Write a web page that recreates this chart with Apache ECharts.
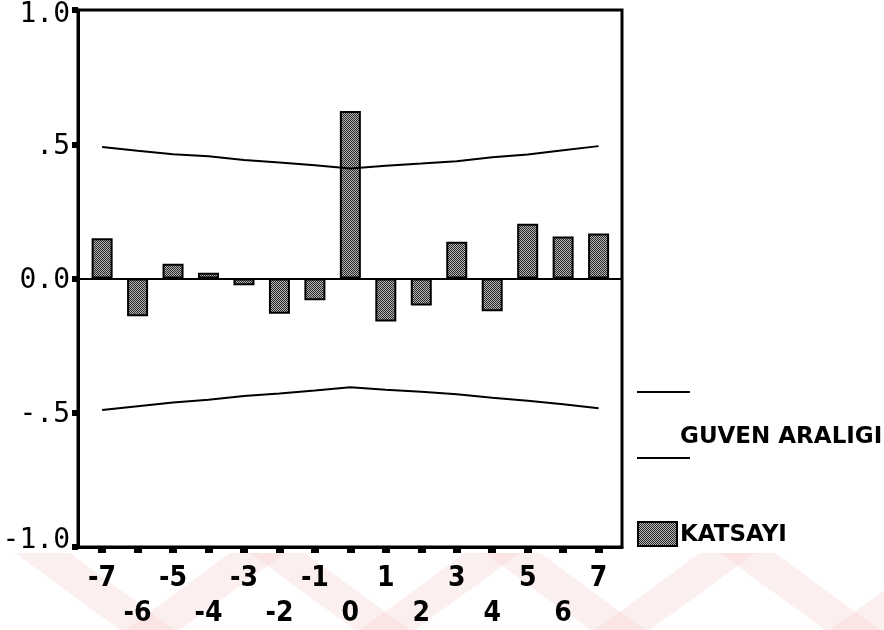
<!DOCTYPE html>
<html>
<head>
<meta charset="utf-8">
<script src="https://cdn.jsdelivr.net/npm/echarts@6/dist/echarts.min.js"></script>
<style>
  html, body { margin: 0; padding: 0; background: #fff; }
  #chart { width: 884px; height: 630px; }
</style>
</head>
<body>
<div id="chart"></div>
<script>
// Cross-correlation coefficients by lag, with the confidence band
const lags = [-7, -6, -5, -4, -3, -2, -1, 0, 1, 2, 3, 4, 5, 6, 7];
const katsayi = [0.150, -0.141, 0.055, 0.021, -0.025, -0.131, -0.081, 0.624,
                 -0.160, -0.101, 0.137, -0.122, 0.204, 0.156, 0.168];
const guvenUst = [0.490, 0.476, 0.463, 0.455, 0.441, 0.432, 0.422, 0.410,
                  0.420, 0.428, 0.437, 0.452, 0.462, 0.478, 0.493];
const guvenAlt = [-0.490, -0.476, -0.462, -0.452, -0.438, -0.428, -0.417, -0.405,
                  -0.414, -0.422, -0.431, -0.444, -0.455, -0.468, -0.483];
const yTickValues = [-1, -0.5, 0, 0.5, 1];
const yTickLabels = ['-1.0', '-.5', '0.0', '.5', '1.0'];

// Stippled grey fill used for the bars and the legend swatch
function stipple() {
  const c = document.createElement('canvas');
  c.width = 4; c.height = 4;
  const g = c.getContext('2d');
  g.fillStyle = '#b4b4b4';
  g.fillRect(0, 0, 4, 4);
  g.fillStyle = '#2a2a2a';
  for (let y = 0; y < 4; y++) {
    for (let x = 0; x < 4; x++) {
      if ((x + y) % 2 === 0) g.fillRect(x, y, 1, 1);
    }
  }
  return { image: c, repeat: 'repeat' };
}
const barFill = stipple();

// Faint diagonal band decoration along the bottom edge
const bandColor = 'rgba(246, 205, 205, 0.32)';
const bands = [];
const vBottoms = [150, 385, 620, 855];
vBottoms.forEach(function (bx) {
  bands.push({ type: 'polygon', silent: true, z: -10,
    shape: { points: [[bx - 135, 553], [bx - 80, 553], [bx + 25, 630], [bx - 30, 630]] },
    style: { fill: bandColor } });
  bands.push({ type: 'polygon', silent: true, z: -10,
    shape: { points: [[bx + 80, 553], [bx + 135, 553], [bx + 30, 630], [bx - 25, 630]] },
    style: { fill: bandColor } });
});

const chart = echarts.init(document.getElementById('chart'), null, { renderer: 'canvas' });

const legendFont = 'bold 23px "DejaVu Sans"';
const tickFont = '"Liberation Sans Narrow", "DejaVu Sans Condensed", sans-serif';
const yFont = { fontFamily: '"DejaVu Sans Mono", monospace', fontSize: 28, color: '#000', lineHeight: 28 };

chart.setOption({
  backgroundColor: '#fff',
  animation: false,
  grid: {
    left: 78, right: 262, top: 10, bottom: 83,
    show: true, borderColor: '#000', borderWidth: 3,
    outerBoundsMode: 'none'
  },
  xAxis: {
    type: 'value',
    min: -7.68, max: 7.66,
    splitLine: { show: false },
    axisLine: { show: true, onZero: false, lineStyle: { color: '#000', width: 3 } },
    axisTick: {
      show: true, customValues: lags, length: 6, inside: false,
      lineStyle: { color: '#000', width: 8 }
    },
    axisLabel: {
      customValues: lags,
      margin: 18,
      formatter: function (v) {
        return (Math.abs(v) % 2 === 1 ? '{o|' : '{e|') + v + '}';
      },
      rich: {
        o: { fontFamily: tickFont, fontWeight: 'bold', fontSize: 28, color: '#000', lineHeight: 28 },
        e: { fontFamily: tickFont, fontWeight: 'bold', fontSize: 28, color: '#000', lineHeight: 98 }
      }
    }
  },
  yAxis: {
    type: 'value',
    min: -1, max: 1, interval: 0.5,
    splitLine: { show: false },
    axisLine: { show: true, onZero: false, lineStyle: { color: '#000', width: 3 } },
    axisTick: { show: true, length: 6, lineStyle: { color: '#000', width: 6 } },
    axisLabel: {
      margin: 8,
      formatter: function (v) {
        const i = yTickValues.indexOf(v);
        if (i < 0) return '';
        const key = v === 1 ? 't' : (v === -1 ? 'b' : 'm');
        return '{' + key + '|' + yTickLabels[i] + '}';
      },
      rich: {
        t: Object.assign({ padding: [9, 0, 0, 0] }, yFont),
        m: Object.assign({ padding: [4, 0, 0, 0] }, yFont),
        b: Object.assign({ padding: [0, 0, 12, 0] }, yFont)
      }
    }
  },
  series: [
    {
      name: 'KATSAYI',
      type: 'bar',
      barWidth: 21,
      data: lags.map(function (l, i) { return [l, katsayi[i]]; }),
      itemStyle: { color: barFill, borderColor: '#000', borderWidth: 2 },
      markLine: {
        silent: true,
        symbol: 'none',
        label: { show: false },
        lineStyle: { color: '#000', width: 2, type: 'solid' },
        data: [{ yAxis: 0 }]
      },
      z: 2
    },
    {
      name: 'GUVEN ARALIGI',
      type: 'line',
      showSymbol: false,
      data: lags.map(function (l, i) { return [l, guvenUst[i]]; }),
      lineStyle: { color: '#000', width: 2 },
      z: 3
    },
    {
      name: 'GUVEN ARALIGI alt',
      type: 'line',
      showSymbol: false,
      data: lags.map(function (l, i) { return [l, guvenAlt[i]]; }),
      lineStyle: { color: '#000', width: 2 },
      z: 3
    }
  ],
  graphic: bands.concat([
    // Legend: confidence band
    { type: 'line', shape: { x1: 637, y1: 392, x2: 690, y2: 392 },
      style: { stroke: '#000', lineWidth: 2 } },
    { type: 'text', x: 680, y: 437,
      style: { text: 'GUVEN ARALIGI', font: legendFont, fill: '#000', verticalAlign: 'middle' } },
    { type: 'line', shape: { x1: 637, y1: 458, x2: 690, y2: 458 },
      style: { stroke: '#000', lineWidth: 2 } },
    // Legend: coefficients
    { type: 'rect', shape: { x: 638, y: 522, width: 39, height: 24 },
      style: { fill: barFill, stroke: '#000', lineWidth: 2 } },
    { type: 'text', x: 680, y: 535,
      style: { text: 'KATSAYI', font: legendFont, fill: '#000', verticalAlign: 'middle' } }
  ])
});
</script>
</body>
</html>
